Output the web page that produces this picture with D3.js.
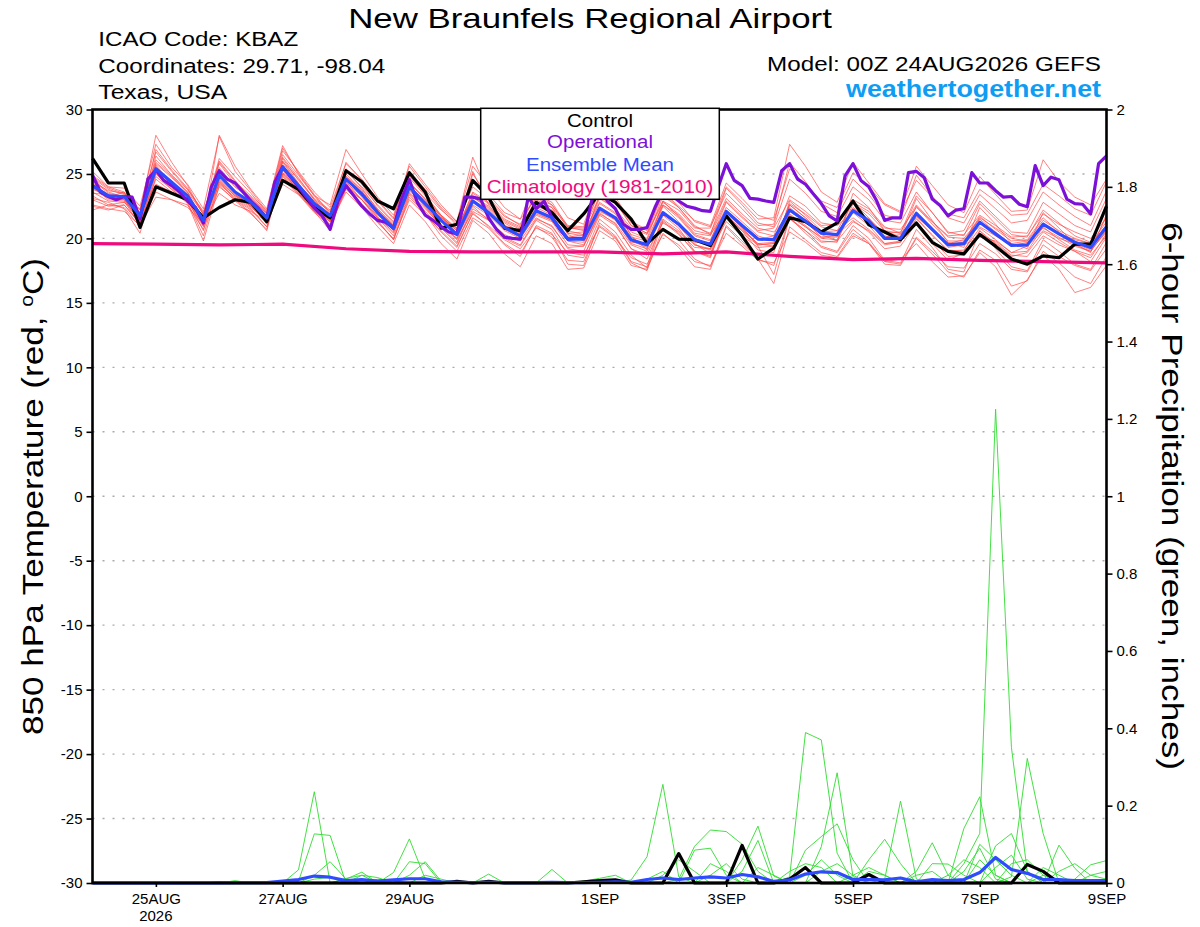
<!DOCTYPE html>
<html>
<head>
<meta charset="utf-8">
<script src="https://cdn.jsdelivr.net/npm/d3@7"></script>
<style>
  body { margin: 0; background: #fff; }
  svg { display: block; }
  text { font-family: "Liberation Sans", Arial, Helvetica, sans-serif; }
</style>
</head>
<body>
<div id="chart"></div>
<script>
// chart size and plot box
const width = 1200, height = 927;
const plotLeft = 92.5, plotRight = 1106.5, plotTop = 109.5, plotBottom = 883;

// run start (00Z 24AUG2026) and step sizes of each series
const runStart = Date.UTC(2026, 7, 24, 0);
const runEnd = Date.UTC(2026, 8, 9, 0);
const ensStepH = 6, operStepH = 3, climStepH = 24;

const tickDates = ["2026-08-25", "2026-08-27", "2026-08-29", "2026-09-01", "2026-09-03", "2026-09-05", "2026-09-07", "2026-09-09"];
const tempTicks = [-30, -25, -20, -15, -10, -5, 0, 5, 10, 15, 20, 25, 30];
const precipTicks = [0, 0.2, 0.4, 0.6, 0.8, 1, 1.2, 1.4, 1.6, 1.8, 2];
const gridTemps = [-25, -20, -15, -10, -5, 0, 5, 10, 15, 20, 25];

// 850 hPa temperature, ensemble members (6-hourly, 65 steps)
const tempMembers = [
  [24.8,23.9,23.5,22.0, 28.0,25.9,24.1,21.8, 26.2,24.8,23.5,22.0, 26.8,25.2,23.6,22.4, 25.8,24.6,23.0,21.6, 25.2,23.8,22.3,21.0, 25.0,23.2,21.8,21.0, 23.4,22.8,20.9,20.6, 23.8,22.9,21.0,20.4, 23.5,22.4,21.0,20.3, 23.9,22.6,21.2,20.9, 24.6,23.5,22.1,21.7, 24.0,23.0,21.4,21.2, 23.6,22.0,20.4,20.6, 22.9,21.7,20.5,20.4, 22.8,21.9,21.0,20.5, 23.1],
  [24.0,23.0,22.9,21.0, 23.6,23.0,22.6,20.7, 24.0,23.0,22.2,20.9, 24.6,23.4,22.0,21.0, 23.8,22.7,21.2,20.0, 23.0,21.8,20.6,19.4, 21.9,21.0,19.9,19.2, 20.8,20.3,18.9,18.7, 20.9,20.0,18.5,18.0, 20.3,19.5,18.2,17.9, 20.4,19.4,18.3,18.1, 20.5,19.7,18.7,18.5, 20.2,19.6,18.2,18.0, 20.1,19.0,17.8,17.7, 19.6,18.8,17.6,17.4, 19.5,18.6,17.9,17.5, 19.2],
  [23.5,23.4,23.2,21.4, 26.4,24.9,23.6,21.0, 28.0,25.6,23.8,22.3, 27.2,25.0,23.3,21.9, 25.4,24.2,22.5,21.2, 24.9,23.4,21.8,20.4, 25.2,22.6,21.0,20.1, 22.9,22.4,20.3,19.8, 23.4,22.3,20.2,19.1, 22.5,21.3,19.6,18.8, 22.0,20.8,19.5,19.6, 22.6,21.6,20.3,19.8, 23.5,22.4,20.6,20.1, 23.1,21.4,19.7,19.3, 22.4,21.1,19.6,19.2, 22.0,20.8,19.6,18.9, 21.9],
  [22.2,22.6,22.8,21.9, 24.2,23.6,23.0,21.5, 24.5,23.3,22.6,21.3, 25.0,23.8,22.4,21.3, 24.1,23.0,21.6,20.5, 23.6,22.3,21.0,19.9, 22.1,21.4,20.3,19.8, 21.6,20.9,19.3,19.4, 22.0,21.1,19.2,18.4, 21.3,20.3,19.0,18.6, 21.6,20.6,19.1,18.9, 22.9,21.8,20.6,20.3, 21.4,20.5,19.2,19.4, 21.2,19.6,18.3,18.9, 20.4,19.7,18.7,18.6, 20.2,19.5,19.0,18.2, 20.1],
  [24.6,23.6,23.2,22.3, 25.8,24.7,23.6,21.9, 25.3,24.0,23.1,21.9, 26.0,24.6,23.1,22.2, 25.2,24.0,22.6,21.3, 24.8,23.5,22.2,21.2, 24.0,23.0,21.7,21.1, 23.5,22.6,21.0,20.9, 23.9,23.0,21.2,20.6, 23.6,22.5,21.4,21.0, 24.3,23.1,21.8,21.4, 25.4,24.2,22.9,22.4, 25.1,24.0,22.6,22.0, 24.5,23.2,21.9,21.6, 23.8,22.9,21.8,21.9, 24.2,23.3,22.3,21.8, 24.4],
  [23.3,22.6,22.4,20.9, 25.0,23.8,22.8,20.2, 24.4,23.0,22.0,20.6, 25.3,23.6,22.2,21.0, 23.9,22.6,21.3,19.9, 23.2,21.9,20.5,19.3, 22.0,20.9,19.6,18.8, 20.9,20.1,18.3,18.2, 21.0,20.1,18.1,17.5, 20.8,19.9,18.4,17.8, 21.0,19.8,18.4,16.5, 20.9,19.9,18.9,18.6, 20.4,19.6,18.0,17.9, 20.0,18.8,17.4,17.0, 19.1,18.3,16.3,16.7, 19.0,18.1,17.0,16.5, 18.6],
  [22.6,22.3,22.1,21.0, 23.2,23.0,22.4,21.2, 23.5,22.6,22.1,21.3, 24.2,23.4,22.4,21.5, 23.9,23.0,21.8,20.9, 23.7,22.6,21.6,20.8, 23.2,22.4,21.2,20.5, 22.6,21.9,20.4,20.5, 22.8,22.0,20.3,19.9, 22.6,21.8,20.4,20.2, 22.9,21.7,20.6,20.8, 23.0,22.1,21.0,21.1, 22.8,22.1,20.8,20.7, 22.4,21.3,20.2,20.3, 21.8,21.0,20.1,20.2, 21.9,21.1,20.5,20.0, 21.6],
  [24.3,23.2,23.6,21.6, 26.9,25.3,23.9,22.0, 25.8,24.2,23.2,22.0, 26.3,24.7,23.0,22.1, 24.8,23.6,22.2,21.0, 24.3,23.0,21.7,20.6, 23.3,22.5,21.3,20.7, 22.5,22.1,20.4,20.2, 23.1,22.3,20.5,20.0, 23.3,22.4,20.9,20.4, 23.1,21.9,20.8,20.5, 21.8,20.9,19.8,19.7, 22.7,21.9,20.6,20.4, 23.3,22.0,20.5,20.2, 22.7,21.5,20.3,20.1, 22.2,21.2,20.2,19.7, 22.3],
  [23.8,23.4,23.0,21.3, 25.5,24.1,23.0,20.6, 25.1,23.6,22.7,21.1, 26.0,24.3,22.6,21.3, 24.4,23.0,21.6,20.2, 23.5,22.1,20.8,19.6, 22.3,21.5,20.1,19.5, 21.5,21.0,19.2,19.0, 21.8,21.0,19.2,18.7, 21.5,20.6,19.5,19.1, 21.3,20.2,19.3,19.4, 22.7,21.9,20.9,20.6, 22.8,21.6,20.2,19.9, 21.3,19.9,18.6,18.7, 20.6,19.6,18.6,18.9, 20.5,19.7,19.0,18.5, 20.4],
  [24.9,24.0,23.9,22.5, 27.3,25.5,24.2,22.3, 27.9,25.2,23.7,22.1, 26.5,24.9,23.3,22.6, 26.9,25.0,23.2,21.8, 25.6,24.0,22.4,21.3, 26.3,23.4,22.0,21.5, 23.1,22.6,20.8,20.7, 23.2,22.3,20.8,20.3, 22.8,21.9,20.6,20.3, 22.1,20.9,19.9,20.2, 21.7,20.9,20.1,20.2, 22.2,21.3,20.1,20.3, 21.8,20.6,19.6,19.9, 20.9,20.2,19.6,19.8, 21.0,20.4,19.9,19.6, 21.0],
  [23.1,22.8,22.3,20.4, 24.8,23.8,22.7,19.8, 24.1,22.9,21.9,20.7, 25.6,23.8,22.1,20.6, 24.2,23.0,21.4,19.9, 23.4,21.9,20.2,19.0, 21.6,20.8,19.5,18.6, 21.0,20.4,18.0,17.9, 21.2,20.2,18.2,17.8, 21.8,20.8,19.0,18.5, 22.0,20.9,19.4,17.2, 21.6,20.6,19.4,19.0, 21.0,20.0,18.3,18.1, 20.7,19.3,17.6,17.4, 20.6,19.2,17.8,17.5, 19.9,19.0,18.0,17.6, 19.7],
  [24.4,23.7,23.5,21.8, 25.2,24.4,23.3,21.7, 26.0,24.5,23.1,21.9, 25.9,24.2,22.8,21.8, 24.8,23.8,22.3,21.1, 24.4,23.0,21.8,20.8, 23.0,22.2,21.0,20.4, 22.4,21.8,20.1,20.3, 22.4,21.5,19.7,19.6, 22.6,21.6,20.2,19.8, 22.8,21.6,20.5,20.2, 23.3,22.5,21.2,21.0, 22.0,21.0,19.6,19.7, 22.5,21.1,19.8,19.8, 21.7,20.7,19.8,19.9, 21.6,20.5,19.7,19.2, 21.7],
  [23.6,22.9,22.8,21.5, 25.7,24.2,23.0,21.1, 24.7,23.4,22.5,21.2, 25.0,23.7,22.4,21.6, 25.3,23.9,22.2,20.6, 24.3,23.1,21.7,20.4, 23.2,22.3,21.0,20.6, 22.0,21.4,19.8,19.5, 22.1,21.5,19.6,19.2, 22.9,21.7,20.3,19.9, 22.4,21.3,20.2,19.8, 22.1,21.3,20.1,20.1, 23.0,22.3,20.9,20.4, 21.6,20.2,19.1,19.0, 21.3,20.2,19.4,19.7, 20.8,20.1,19.4,19.0, 20.7],
  [24.5,23.5,23.2,22.0, 25.9,24.8,23.5,21.5, 24.2,23.2,22.4,21.4, 25.4,24.2,22.9,21.9, 24.5,23.4,21.9,20.7, 23.8,22.5,21.1,20.0, 22.6,21.8,20.6,20.0, 21.8,21.3,19.5,19.4, 21.9,21.2,19.5,19.0, 21.2,20.5,19.3,19.2, 22.2,21.0,20.0,20.0, 22.4,21.4,20.5,20.6, 21.6,20.7,19.6,19.8, 21.7,20.6,19.3,19.5, 20.1,19.8,18.9,19.4, 20.6,20.0,19.6,19.1, 20.5],
  [25.2,24.0,23.6,21.9, 26.1,24.9,23.8,22.1, 25.5,24.0,23.0,21.6, 26.2,24.5,23.0,21.7, 25.0,23.7,22.1,21.0, 24.7,23.3,21.8,20.7, 23.5,22.7,21.4,20.8, 22.8,22.2,20.6,20.3, 22.7,21.9,20.1,19.8, 21.9,21.0,19.7,19.6, 21.8,20.6,19.6,19.7, 21.5,20.6,19.7,19.8, 21.3,20.6,19.5,19.7, 21.9,20.7,19.6,19.7, 21.6,20.8,20.0,19.8, 21.4,20.6,20.0,19.6, 21.3],
  [22.5,22.2,22.6,21.2, 24.6,23.6,22.9,21.0, 24.9,23.5,22.5,21.4, 24.8,23.5,22.1,21.3, 24.6,23.2,21.7,20.4, 23.9,22.5,21.0,20.0, 22.9,22.0,20.7,20.1, 21.9,21.4,19.8,19.7, 22.2,21.4,19.8,19.3, 21.9,21.0,19.5,19.2, 21.5,20.4,19.5,19.6, 21.9,21.0,20.0,19.9, 22.3,21.5,20.4,20.5, 22.6,21.3,20.1,20.0, 21.5,20.5,19.5,19.4, 21.2,20.3,19.5,19.0, 20.6],
  [23.9,23.1,23.0,21.6, 25.3,24.2,23.1,21.3, 24.6,23.4,22.6,21.5, 25.1,23.9,22.5,21.4, 24.3,23.3,21.9,20.9, 24.1,22.9,21.6,20.6, 23.6,22.8,21.5,20.9, 23.0,22.4,20.9,20.8, 23.6,22.8,21.0,20.4, 22.9,22.2,20.8,20.8, 24.0,22.8,21.5,21.6, 27.3,25.6,23.6,22.8, 25.9,24.3,22.7,22.1, 25.6,24.1,22.6,22.0, 24.8,23.4,22.1,22.2, 26.1,24.4,23.2,22.6, 24.6],
  [24.2,23.4,23.1,21.2, 25.6,24.1,23.0,21.2, 24.4,23.3,22.5,21.2, 25.7,24.0,22.6,21.7, 24.7,23.3,21.9,20.6, 23.9,22.4,20.9,19.7, 22.5,21.4,20.0,19.4, 21.4,20.7,18.7,18.5, 21.5,20.5,18.7,17.7, 20.4,19.3,17.8,17.6, 20.9,19.6,18.4,17.9, 21.6,20.4,19.3,18.9, 20.7,19.7,18.2,18.4, 19.6,18.2,17.0,17.1, 18.9,17.8,15.6,16.8, 18.7,17.6,15.8,16.2, 17.9],
  [23.0,22.5,22.6,21.1, 25.1,23.9,22.9,20.9, 24.3,23.1,22.3,20.9, 24.9,23.5,22.1,21.1, 23.6,22.4,20.9,19.6, 22.6,21.3,19.6,18.4, 21.4,20.4,18.8,17.8, 20.2,19.6,17.6,17.7, 20.6,19.8,17.9,17.6, 21.4,20.4,18.9,18.7, 21.8,20.7,19.6,19.4, 22.6,21.6,20.4,20.2, 22.4,21.5,20.0,19.9, 21.5,20.3,19.0,19.1, 20.8,19.9,18.9,19.0, 20.9,19.9,19.1,18.7, 20.2],
  [24.7,23.8,23.4,22.2, 26.7,25.2,23.8,21.9, 25.9,24.4,23.3,22.2, 27.0,25.1,23.4,22.0, 25.9,24.5,22.9,21.5, 25.8,24.2,22.6,21.3, 25.6,24.0,22.4,21.5, 24.5,23.4,21.6,21.1, 24.3,23.2,21.3,20.7, 23.9,22.8,21.3,20.9, 23.5,22.3,21.0,21.1, 25.9,24.4,22.7,22.0, 24.6,23.4,21.8,21.5, 24.9,23.3,21.6,21.2, 23.4,22.3,21.2,21.4, 23.6,22.6,21.7,21.0, 23.7]
];

// control, ensemble mean (6-hourly) and operational (3-hourly)
const tempControl = [26.2,24.3,24.3,20.85, 24.0,23.5,23.0,21.6, 22.4,23.0,22.8,21.3, 24.5,23.8,22.4,21.6, 25.25,24.4,22.9,22.3, 25.1,23.6,20.8,21.1, 24.5,23.2,20.8,20.6, 22.8,22.0,20.6,21.9, 23.5,22.8,21.5,19.6, 20.7,19.95,19.9,19.45, 21.75,20.2,18.4,19.25, 21.6,21.3,20.5,21.2, 22.9,21.05,20.5,19.9, 21.2,19.7,19.0,18.8, 20.3,19.4,18.4,18.0, 18.65,18.5,19.55,19.55, 22.5];
const tempMean = [24.1,23.3,23.25,21.75, 25.4,24.35,23.3,21.4, 24.9,23.6,22.8,21.6, 25.55,24.1,22.7,21.75, 24.6,23.45,22.0,20.8, 24.0,22.7,21.4,20.3, 22.9,22.0,20.85,20.2, 22.15,21.6,19.95,19.95, 22.35,21.6,19.9,19.5, 22.0,21.1,19.9,19.55, 22.1,21.0,19.95,19.9, 22.2,21.35,20.4,20.3, 22.15,21.35,20.0,20.0, 21.95,20.7,19.5,19.6, 21.25,20.35,19.45,19.5, 21.1,20.35,19.7,19.3, 20.9];
const tempOper = [
  24.9,23.6,23.25,23.0,23.25,23.2,21.5,24.6, 25.3,24.5,24.1,23.6,22.9,22.4,21.2,24.0,
  25.25,24.6,24.3,23.6,22.9,22.3,21.6,24.35, 25.55,24.75,24.0,23.2,22.35,21.75,20.7,22.9,
  24.1,23.3,22.5,21.9,21.4,21.25,20.8,23.05, 24.55,22.8,21.8,21.4,20.9,20.5,20.35,23.2,
  23.2,23.05,21.6,20.7,20.1,20.0,19.95,23.2, 22.3,22.9,21.6,20.7,19.95,20.0,20.0,22.9,
  24.0,22.9,22.3,21.1,20.7,20.7,20.85,22.4, 23.7,23.4,22.9,22.5,22.35,22.15,22.1,24.0,
  25.8,24.5,24.1,23.1,23.05,22.9,22.8,25.25, 25.8,24.6,24.2,23.45,22.7,21.75,21.35,24.85,
  25.8,24.5,24.0,22.9,21.4,21.6,21.6,25.1, 25.2,24.7,23.05,22.55,21.75,22.2,22.3,25.1,
  24.3,24.3,23.7,23.2,23.25,22.65,22.45,25.65, 24.1,24.75,24.55,23.05,22.7,22.65,21.9,25.8,
  26.4
];
// 1981-2010 climatology, one value per day
const tempClim = [19.6, 19.55, 19.5, 19.55, 19.2, 19.0, 18.95, 18.95, 18.95, 18.8, 18.95, 18.6, 18.35, 18.45, 18.3, 18.2, 18.1];

// 6-hour precipitation (inches), ensemble members (6-hourly, 65 steps)
const precipMembers = [
  [0,0,0,0,0,0,0,0,0,0,0,0,0, 0.034,0.236,0,0,0,0,0,0,0,0,0,0,0, 0,0,0,0,0,0,0,0,0,0,0,0.01,0.095, 0.137,0.133,0.1,0.03,0,0,0,0,0,0,0,0,0, 0,0,0,0.05,0.128,1.225,0.35,0.03,0,0,0,0,0],
  [0,0,0,0,0,0,0,0,0,0,0,0,0, 0.004,0.127,0.123,0,0,0,0,0,0,0,0,0,0, 0,0,0,0,0,0,0,0,0,0,0,0,0, 0,0,0,0,0,0.016,0.389,0.37,0.077,0,0,0,0, 0,0,0,0,0,0,0,0,0,0.098,0.038,0,0],
  [0,0,0,0,0,0,0,0,0,0,0,0,0, 0,0.02,0.055,0.01,0,0,0,0,0,0,0,0,0, 0,0,0,0,0,0,0,0,0.008,0.068,0.255,0.016,0, 0,0,0,0,0,0,0,0,0,0,0,0,0, 0,0,0,0,0,0,0.016,0.322,0.128,0,0,0,0],
  [0,0,0,0,0,0,0,0,0,0,0,0,0, 0,0,0,0.01,0.028,0,0,0,0,0,0,0,0, 0,0,0,0,0,0,0,0,0,0,0,0,0.085, 0.09,0.02,0,0,0,0,0,0,0,0,0,0,0, 0,0,0,0.141,0.223,0.02,0,0,0,0,0,0,0],
  [0,0,0,0,0,0,0,0,0,0,0,0,0, 0,0,0,0,0.02,0.014,0,0,0,0,0,0,0, 0,0,0,0,0,0,0,0,0,0,0,0,0, 0,0,0.06,0.147,0.018,0,0,0,0,0,0,0,0, 0,0,0,0,0,0.096,0.128,0.03,0,0,0,0,0],
  [0,0,0,0,0,0,0,0,0,0,0,0,0, 0,0,0,0,0,0,0.027,0.114,0.01,0,0,0,0, 0,0,0,0,0,0,0,0,0,0,0,0,0, 0,0,0,0,0,0,0,0.094,0.285,0.016,0,0,0, 0,0,0,0,0,0,0,0,0,0,0.01,0.047,0.058],
  [0,0,0,0,0,0,0,0,0,0,0,0,0, 0,0,0,0,0,0,0,0.055,0.05,0,0,0,0, 0,0,0,0,0,0,0,0,0,0,0,0,0, 0,0,0.03,0.11,0,0,0,0,0,0,0,0,0, 0,0,0,0,0,0.04,0.072,0.01,0,0,0,0,0],
  [0,0,0,0,0,0,0,0,0,0,0,0,0, 0,0,0,0,0,0,0,0.02,0.055,0.005,0,0,0, 0,0,0,0,0,0,0,0,0,0,0,0,0, 0,0,0,0,0,0,0.085,0.12,0.153,0.06,0,0,0, 0.03,0.104,0.02,0,0,0,0,0,0,0,0,0,0],
  [0,0,0,0,0,0,0,0,0,0,0,0,0, 0,0,0,0,0,0,0,0,0,0,0,0,0.023, 0,0,0,0,0,0,0,0,0,0,0,0,0, 0,0,0,0,0,0,0,0,0,0,0.06,0.113,0.05, 0,0.05,0.049,0.02,0,0,0,0,0,0,0,0,0],
  [0,0,0,0,0,0,0,0,0,0,0,0,0, 0,0,0,0,0,0,0,0,0,0,0,0,0, 0,0,0,0.035,0,0,0,0,0,0,0,0,0, 0,0,0,0,0,0,0,0,0,0,0,0.01,0.212, 0.01,0,0,0,0,0,0,0,0.04,0.02,0,0,0],
  [0,0,0,0,0,0,0,0,0,0,0,0,0, 0,0,0,0,0,0,0,0,0,0,0,0,0, 0,0,0,0,0,0.005,0.012,0.02,0,0,0,0,0, 0,0,0,0,0,0.03,0.05,0.04,0,0,0,0,0, 0,0,0,0,0.06,0.02,0,0,0,0,0,0,0],
  [0,0,0,0,0,0,0,0,0,0.006,0,0,0, 0,0,0,0.012,0.02,0,0,0,0,0,0,0,0, 0,0,0,0,0,0,0,0,0,0,0,0,0, 0.02,0.05,0.01,0,0,0,0,0,0,0.02,0.04,0.02,0, 0,0,0,0.03,0.09,0.01,0,0,0,0,0,0.02,0.03],
  [0,0,0,0,0,0,0,0,0,0,0,0,0, 0,0.01,0.015,0,0,0,0,0,0,0,0,0,0, 0,0,0,0,0,0,0,0,0,0,0.02,0.06,0.03, 0,0,0,0,0,0,0,0.03,0.05,0.02,0,0,0, 0,0,0,0,0,0,0.05,0.06,0.02,0,0,0,0],
  [0,0,0,0,0,0,0,0,0,0,0,0,0, 0,0,0,0,0,0,0,0,0.02,0.01,0,0,0, 0,0,0,0,0,0,0,0,0,0,0,0,0, 0.05,0.03,0,0,0,0,0,0,0,0,0,0,0, 0.02,0.03,0,0,0.1,0.06,0.02,0,0,0,0,0,0],
  [0,0,0,0,0,0,0,0,0,0,0,0,0, 0,0,0,0,0,0.01,0.006,0,0,0,0,0,0, 0,0,0,0,0,0,0,0,0,0,0,0,0, 0,0,0,0.04,0.02,0,0,0,0,0,0.03,0.02,0, 0,0,0,0,0,0,0,0,0,0.03,0.05,0.02,0.01],
  [0,0,0,0,0,0,0,0,0.004,0,0,0,0, 0,0,0,0,0,0,0,0,0,0,0,0,0, 0,0,0,0,0,0,0,0,0,0.01,0.03,0,0, 0,0,0,0,0,0,0.02,0.06,0.02,0,0,0,0, 0,0,0.02,0.06,0.04,0,0,0,0.02,0.01,0,0,0]
];
const precipControl = [0,0,0,0,0,0,0,0,0,0,0,0,0, 0,0,0,0,0,0,0,0,0,0,0.004,0,0.004, 0,0,0,0,0,0.003,0.006,0.008,0,0,0,0.076,0, 0,0,0.097,0,0,0.01,0.04,0,0,0,0.022,0,0, 0,0,0,0,0,0,0,0.048,0.03,0,0,0,0];
const precipMean = [0,0,0,0,0,0,0,0,0,0.001,0.001,0.001,0.005, 0.009,0.018,0.015,0.006,0.009,0.005,0.008,0.011,0.011,0.003,0.002,0.001,0.002, 0.001,0.001,0.001,0.002,0.001,0.001,0.002,0.003,0.002,0.009,0.013,0.009,0.013, 0.016,0.013,0.022,0.016,0.004,0.008,0.023,0.029,0.027,0.009,0.009,0.008,0.013, 0.003,0.009,0.006,0.009,0.027,0.066,0.035,0.025,0.009,0.009,0.006,0.006,0.006];

const colors = {
  member: "#ff4545", precip: "#2fdc2f", control: "#000000", oper: "#7d10d8",
  mean: "#2f4bff", clim: "#ef0a7e", site: "#0e9df2", grid: "#aaaaaa"
};

const svg = d3.select("#chart").append("svg")
    .attr("width", width)
    .attr("height", height)
    .style("background", "#fff");

// scales
const x = d3.scaleUtc().domain([new Date(runStart), new Date(runEnd)]).range([plotLeft, plotRight]);
const yTemp = d3.scaleLinear().domain([-30, 30]).range([plotBottom, plotTop]);
const yPrecip = d3.scaleLinear().domain([0, 2]).range([plotBottom, plotTop]);

const timeAt = (i, stepH) => new Date(runStart + i * stepH * 3600e3);
const lineFor = (yScale, stepH) => d3.line()
    .x((d, i) => x(timeAt(i, stepH)))
    .y(d => yScale(d));

// dotted grid at the temperature ticks
svg.append("g").selectAll("line")
    .data(gridTemps)
    .enter().append("line")
    .attr("x1", plotLeft).attr("x2", plotRight)
    .attr("y1", d => yTemp(d)).attr("y2", d => yTemp(d))
    .attr("stroke", colors.grid)
    .attr("stroke-width", 1.4)
    .attr("stroke-dasharray", "2,8");

// precipitation members (green) then temperature members (red)
svg.append("g").selectAll("path")
    .data(precipMembers)
    .enter().append("path")
    .attr("d", lineFor(yPrecip, ensStepH))
    .attr("fill", "none")
    .attr("stroke", colors.precip)
    .attr("stroke-width", 0.9);

svg.append("g").selectAll("path")
    .data(tempMembers)
    .enter().append("path")
    .attr("d", lineFor(yTemp, ensStepH))
    .attr("fill", "none")
    .attr("stroke", colors.member)
    .attr("stroke-opacity", 0.85)
    .attr("stroke-width", 0.8);

// thick lines
const thick = [
  {data: tempClim, y: yTemp, step: climStepH, color: colors.clim},
  {data: tempControl, y: yTemp, step: ensStepH, color: colors.control},
  {data: tempOper, y: yTemp, step: operStepH, color: colors.oper},
  {data: tempMean, y: yTemp, step: ensStepH, color: colors.mean},
  {data: precipControl, y: yPrecip, step: ensStepH, color: colors.control},
  {data: precipMean, y: yPrecip, step: ensStepH, color: colors.mean}
];
svg.append("g").selectAll("path")
    .data(thick)
    .enter().append("path")
    .attr("d", d => lineFor(d.y, d.step)(d.data))
    .attr("fill", "none")
    .attr("stroke", d => d.color)
    .attr("stroke-width", 3.2)
    .attr("stroke-linejoin", "round");

// axes
const axisLeft = svg.append("g")
    .attr("transform", `translate(${plotLeft},0)`)
    .call(d3.axisLeft(yTemp).tickValues(tempTicks).tickFormat(d => String(d)).tickSize(6).tickPadding(4));
const axisRight = svg.append("g")
    .attr("transform", `translate(${plotRight},0)`)
    .call(d3.axisRight(yPrecip).tickValues(precipTicks).tickFormat(d => String(d)).tickSize(6).tickPadding(4));
const axisBottom = svg.append("g")
    .attr("transform", `translate(0,${plotBottom})`)
    .call(d3.axisBottom(x)
        .tickValues(tickDates.map(d => new Date(d + "T00:00:00Z")))
        .tickFormat(d => d3.utcFormat("%-d%b")(d).toUpperCase())
        .tickSize(4));

[axisLeft, axisRight, axisBottom].forEach(g => {
  g.select(".domain").remove();
  g.selectAll(".tick line").attr("stroke", "#000").attr("stroke-width", 1.6);
  g.selectAll(".tick text").attr("fill", "#000").style("font-size", "15px")
      .style("font-family", '"Liberation Sans", Arial, sans-serif');
});
axisBottom.selectAll(".tick text").attr("y", 10.6);

svg.append("text")
    .attr("x", x(new Date(tickDates[0] + "T00:00:00Z")))
    .attr("y", 920.7)
    .attr("text-anchor", "middle")
    .style("font-size", "15px")
    .text("2026");

// frame
svg.append("rect")
    .attr("x", plotLeft).attr("y", plotTop)
    .attr("width", plotRight - plotLeft).attr("height", plotBottom - plotTop)
    .attr("fill", "none").attr("stroke", "#000").attr("stroke-width", 2.6);

// text stretched to the measured widths of the original lettering
function placeText(txt, tx, ty, rot, anchor, size, targetLen, opts = {}) {
  const t = svg.append("text")
      .attr("text-anchor", anchor)
      .style("font-size", size + "px")
      .attr("fill", opts.color || "#000");
  if (opts.bold) t.style("font-weight", "bold");
  if (Array.isArray(txt)) {
    txt.forEach(part => {
      const s = t.append("tspan").text(part.text);
      if (part.sup) s.attr("baseline-shift", "super").style("font-size", (size * 0.6) + "px");
    });
  } else {
    t.text(txt);
  }
  const w = t.node().getComputedTextLength();
  const k = targetLen / w;
  t.attr("transform", `translate(${tx},${ty}) rotate(${rot}) scale(${k},1)`);
  return t;
}

placeText("New Braunfels Regional Airport", 590, 28.3, 0, "middle", 28, 484);
placeText("ICAO Code: KBAZ", 98.3, 45.7, 0, "start", 19.5, 200);
placeText("Coordinates: 29.71, -98.04", 98.3, 72.7, 0, "start", 19.5, 287);
placeText("Texas, USA", 98.3, 99.3, 0, "start", 19.5, 129);
placeText("Model: 00Z 24AUG2026 GEFS", 1101, 70.7, 0, "end", 19.5, 334);
placeText("weathertogether.net", 1101, 97.3, 0, "end", 23, 255, {bold: true, color: colors.site});

placeText([{text: "850 hPa Temperature (red, "}, {text: "o", sup: true}, {text: "C)"}], 43, 496.5, -90, "middle", 30, 477);
placeText("6-hour Precipitation (green, inches)", 1162, 496, 90, "middle", 30, 548);

// legend
svg.append("rect")
    .attr("x", 480.7).attr("y", 108.3)
    .attr("width", 238.6).attr("height", 91)
    .attr("fill", "#fff").attr("stroke", "#000").attr("stroke-width", 1.5);

const legendItems = ["Control", "Operational", "Ensemble Mean", "Climatology (1981-2010)"];
const legendColors = [colors.control, colors.oper, colors.mean, colors.clim];
const legendWidths = [66, 106, 148, 226.7];
const legendBaselines = [126.7, 148.3, 170.7, 192.7];
legendItems.forEach((name, i) => {
  placeText(name, 600, legendBaselines[i], 0, "middle", 17.5, legendWidths[i], {color: legendColors[i]});
});
</script>
</body>
</html>
